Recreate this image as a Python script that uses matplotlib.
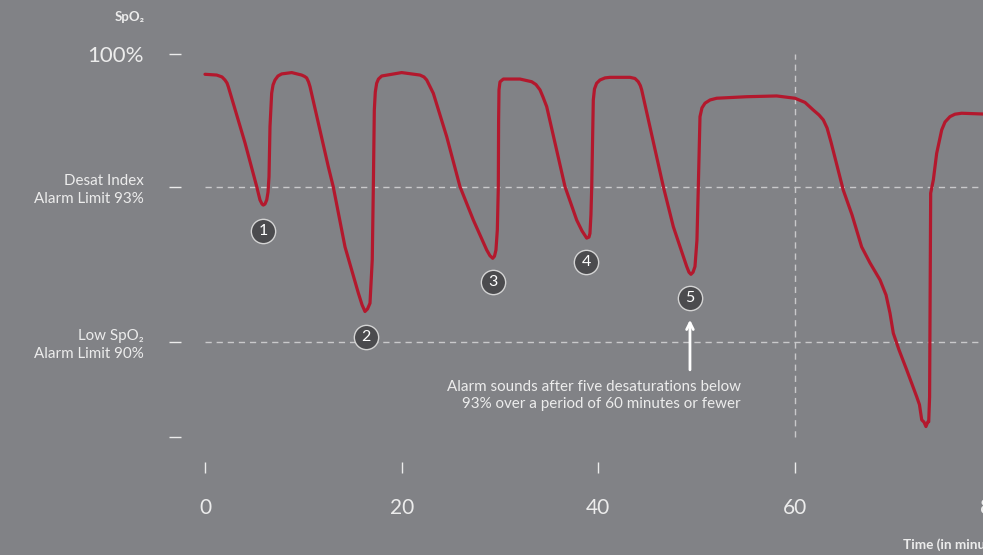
import numpy as np
import matplotlib
matplotlib.use("Agg")
import matplotlib.pyplot as plt

# SpO2-Verlauf (schematisch)
TIME_MIN = [0.0, 1.19, 1.73, 2.03, 2.24, 2.37, 4.07, 5.26, 5.59, 5.80, 5.93, 6.10, 6.28,
            6.41, 6.51, 6.61, 6.78, 6.92, 7.12, 7.42, 7.80, 8.82, 9.83, 10.12, 10.34,
            10.53, 10.68, 12.54, 13.04, 14.24, 15.59, 15.97, 16.27, 16.53, 16.78, 17.01,
            17.12, 17.22, 17.32, 17.46, 17.64, 17.97, 20.00, 21.86, 22.27, 22.55, 22.78,
            23.22, 24.58, 25.93, 27.29, 28.65, 28.98, 29.26, 29.44, 29.59, 29.73, 29.83,
            29.86, 29.90, 30.00, 30.34, 32.03, 33.22, 33.66, 34.07, 34.37, 34.75, 36.61,
            37.80, 38.34, 38.82, 39.05, 39.15, 39.25, 39.33, 39.49, 39.61, 39.83, 40.17,
            40.68, 41.19, 43.22, 43.73, 44.06, 44.27, 44.41, 46.61, 47.63, 48.99, 49.22,
            49.42, 49.63, 49.83, 50.03, 50.17, 50.34, 50.54, 50.85, 51.37, 52.04, 55.09,
            58.14, 60.00, 61.02, 61.86, 62.44, 62.88, 63.26, 63.66, 64.91, 65.26, 65.80,
            66.78, 67.63, 68.65, 69.26, 69.66, 70.00, 70.58, 71.36, 72.38, 72.66, 72.89,
            73.12, 73.32, 73.51, 73.60, 73.69, 73.73, 73.80, 74.07, 74.41, 74.92, 75.26,
            75.76, 76.27, 76.95, 79.12]
SPO2 = [98.93, 98.89, 98.79, 98.63, 98.47, 98.28, 95.32, 93.02, 92.75, 92.67, 92.65, 92.67,
        92.75, 92.90, 93.54, 96.17, 97.93, 98.37, 98.63, 98.84, 98.95, 99.02, 98.89, 98.82,
        98.74, 98.53, 98.28, 94.07, 93.02, 91.84, 90.95, 90.72, 90.59, 90.64, 90.75, 91.59,
        93.02, 97.05, 98.00, 98.46, 98.68, 98.84, 99.02, 98.89, 98.79, 98.63, 98.39, 97.93,
        95.65, 93.02, 92.36, 91.78, 91.67, 91.62, 91.66, 91.78, 92.17, 93.02, 96.53, 98.11,
        98.53, 98.68, 98.68, 98.54, 98.39, 98.11, 97.74, 97.23, 93.02, 92.36, 92.15, 92.01,
        92.03, 92.10, 92.46, 93.02, 97.58, 98.16, 98.46, 98.63, 98.74, 98.77, 98.77, 98.71,
        98.54, 98.34, 98.11, 93.02, 92.23, 91.46, 91.35, 91.31, 91.35, 91.46, 91.97, 93.02,
        96.70, 97.16, 97.41, 97.58, 97.67, 97.75, 97.79, 97.67, 97.45, 97.05, 96.79, 96.53,
        96.11, 95.37, 92.94, 92.75, 92.46, 91.84, 91.53, 91.20, 90.91, 90.56, 90.17, 89.75,
        89.12, 88.27, 88.02, 87.54, 87.47, 87.33, 87.48, 87.48, 88.26, 90.30, 92.88, 93.37,
        94.77, 96.00, 96.42, 96.70, 96.83, 96.88, 96.84]

# nummerierte Entsaettigungen
EVENT_T = [5.90, 16.37, 29.29, 38.75, 49.32]
EVENT_Y = [92.15, 90.10, 91.16, 91.55, 90.85]
EVENT_LBL = ["1", "2", "3", "4", "5"]

X_TICKS = [0, 20, 40, 60, 80]
Y_TICKS = [87, 90, 93, 100]
Y_LABELS = ["", "Low SpO\u2082\nAlarm Limit 90%", "Desat Index\nAlarm Limit 93%", "100%"]
DESAT_LIMIT = 93
LOW_LIMIT = 90
WINDOW_END = 60

# nicht-lineare Achse der Vorlage (stueckweise linear)
SCALE_V = [70, 87, 90, 93, 100, 120]
SCALE_P = [-975.3, -437, -342, -187, -54, 326]


def fwd(v):
    return np.interp(v, SCALE_V, SCALE_P)


def inv(p):
    return np.interp(p, SCALE_P, SCALE_V)


BG = "#818286"
RED = "#b3182d"
TXT = "#ececec"
DASH = "#c9c9cb"
FONT = ["Lato", "DejaVu Sans"]

plt.rcParams["font.family"] = FONT

fig = plt.figure(figsize=(9.83, 5.55), dpi=100, facecolor=BG)
ax = fig.add_axes([181 / 983, 93 / 555, 819 / 983, 462 / 555])
ax.set_facecolor(BG)
ax.set_yscale("function", functions=(fwd, inv))
ax.set_xlim(-2.44, 80.85)
ax.set_ylim(86.21, 102.84)
for s in ax.spines.values():
    s.set_visible(False)

ax.hlines([DESAT_LIMIT, LOW_LIMIT], 0, 80.85, colors=DASH, lw=1.0,
          linestyles=(0, (4.5, 3.5)), zorder=1)
ax.vlines(WINDOW_END, 87, 100, colors=DASH, lw=1.0, linestyles=(0, (4.5, 3.5)), zorder=1)

ax.plot(TIME_MIN, SPO2, color=RED, lw=2.3, solid_joinstyle="round",
        solid_capstyle="round", zorder=3)

ax.plot(EVENT_T, EVENT_Y, "o", ms=17.5, mfc="#4b4b4e", mec="#d4d4d4", mew=1.0, zorder=4)
for t, y, l in zip(EVENT_T, EVENT_Y, EVENT_LBL):
    ax.text(t, y, l, color="white", fontsize=11.5, ha="center", va="center", zorder=5)

ax.annotate("", xy=(EVENT_T[4], 90.43), xytext=(EVENT_T[4], 89.12),
            arrowprops=dict(arrowstyle="->", color="white", lw=2.0,
                            mutation_scale=12, shrinkA=0, shrinkB=0))
ax.text(54.51, 88.31,
        "Alarm sounds after five desaturations below\n93% over a period of 60 minutes or fewer",
        ha="right", va="center", multialignment="right", color=TXT, fontsize=10.9,
        linespacing=1.3)

ax.set_xticks(X_TICKS)
ax.set_xticklabels([str(x) for x in X_TICKS])
ax.set_yticks(Y_TICKS)
ax.set_yticklabels(Y_LABELS)
ax.tick_params(axis="x", direction="out", length=8, width=1.0, color=TXT,
               labelcolor=TXT, labelsize=15, pad=18)
ax.tick_params(axis="y", direction="out", length=8.5, width=1.0, color=TXT,
               labelcolor=TXT, labelsize=10.9, pad=18)
ylabs = ax.get_yticklabels()
ylabs[3].set_fontsize(16)
for lab in ylabs[1:3]:
    lab.set_linespacing(1.3)

fig.text(130 / 983, 1 - 17 / 555, "SpO\u2082", color=TXT, fontsize=9.5, fontweight="bold",
         ha="center", va="center")
fig.text(903 / 983, 1 - 545 / 555, "Time (in minutes)", color=TXT, fontsize=9.8,
         fontweight="bold", ha="left", va="center")

fig.savefig("out.png", dpi=100, facecolor=BG)
